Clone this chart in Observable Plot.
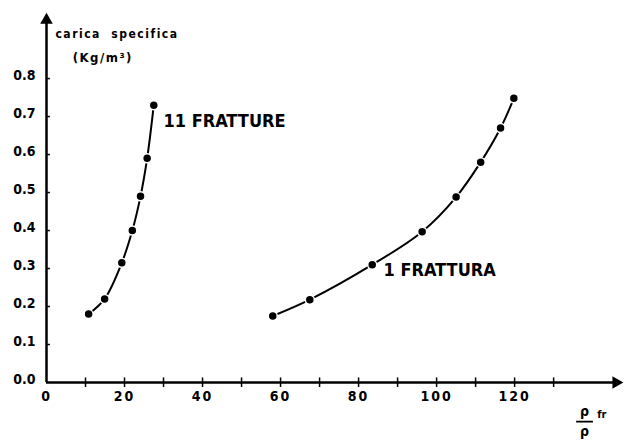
<!DOCTYPE html>
<html>
<head>
<meta charset="utf-8">
<script src="https://cdn.jsdelivr.net/npm/d3@7"></script>
<script src="https://cdn.jsdelivr.net/npm/@observablehq/plot@0.6"></script>
<style>
  body { margin: 0; background: #fff; }
  svg { font-family: "Liberation Sans Narrow", "DejaVu Sans Condensed", "Arial Narrow", sans-serif; font-weight: bold; }
</style>
</head>
<body>
<div id="chart"></div>
<script>
// Series "11 FRATTURE"
const xEleven = [10.8, 14.9, 19.3, 22.0, 24.1, 25.8, 27.5];
const yEleven = [0.18, 0.22, 0.315, 0.40, 0.49, 0.59, 0.73];
// Series "1 FRATTURA"
const xOne = [58, 67.5, 83.5, 96.3, 105, 111.3, 116.4, 119.8];
const yOne = [0.175, 0.218, 0.31, 0.397, 0.488, 0.58, 0.67, 0.748];
// Tick labels
const xTickLabels = [0, 20, 40, 60, 80, 100, 120];
const xMinorTicks = [10, 20, 30, 40, 50, 60, 70, 80, 90, 100, 110, 120, 130];
const yTickLabels = [0.0, 0.1, 0.2, 0.3, 0.4, 0.5, 0.6, 0.7, 0.8];
// Texts
const yTitle1 = "carica  specifica";
const yTitle2 = "(Kg/m³)";
const label11 = "11 FRATTURE";
const label1 = "1 FRATTURA";

const xMax = 147.4, yMax = 0.966;
const eleven = xEleven.map((x, i) => ({x, y: yEleven[i]}));
const one = xOne.map((x, i) => ({x, y: yOne[i]}));

const plot = Plot.plot({
  width: 625,
  height: 441,
  marginLeft: 46,
  marginRight: 4,
  marginTop: 15,
  marginBottom: 59,
  x: {domain: [0, xMax], axis: null},
  y: {domain: [0, yMax], axis: null},
  style: {background: "#fff", color: "#000", overflow: "visible"},
  marks: [
    Plot.axisX(xMinorTicks, {tickSize: 5, tickFormat: () => "", strokeWidth: 1.5, label: null}),
    Plot.axisX(xTickLabels, {tickSize: 0, tickPadding: 9, fontSize: 14, tickFormat: d => String(d), label: null}),
    Plot.ruleX(xMinorTicks, {y1: 0, y2: 0.012, strokeWidth: 1.5}),
    Plot.axisY(yTickLabels, {tickSize: 0, tickPadding: 11, fontSize: 14, dy: -3, tickFormat: d3.format(".1f"), label: null}),
    Plot.ruleY(yTickLabels.slice(1), {x1: 0, x2: 1, strokeWidth: 1.5}),
    Plot.ruleX([0], {y1: 0, y2: yMax - 0.02, strokeWidth: 2.5}),
    Plot.ruleY([0], {x1: 0, x2: xMax - 2, strokeWidth: 2.5}),
    Plot.dot([{x: 0, y: yMax - 0.012}], {x: "x", y: "y", symbol: "triangle2", r: 6, fill: "#000"}),
    Plot.dot([{x: xMax - 1.4, y: 0}], {x: "x", y: "y", symbol: "triangle2", r: 6, fill: "#000", rotate: 90}),
    Plot.line(eleven, {x: "x", y: "y", curve: "catmull-rom", strokeWidth: 2, stroke: "#000"}),
    Plot.line(one, {x: "x", y: "y", curve: "catmull-rom", strokeWidth: 2, stroke: "#000"}),
    Plot.dot(eleven, {x: "x", y: "y", r: 4.5, fill: "#000", stroke: "#fff", strokeWidth: 1.5}),
    Plot.dot(one, {x: "x", y: "y", r: 4.5, fill: "#000", stroke: "#fff", strokeWidth: 1.5}),
    Plot.text([yTitle1], {x: 2.3, y: 0.918, text: d => d, textAnchor: "start", fontSize: 12, className: "spaced"}),
    Plot.text([yTitle2], {x: 6.7, y: 0.855, text: d => d, textAnchor: "start", fontSize: 13, className: "spaced"}),
    Plot.text([label11], {x: 30, y: 0.687, text: d => d, textAnchor: "start", fontSize: 18}),
    Plot.text([label1], {x: 86.4, y: 0.295, text: d => d, textAnchor: "start", fontSize: 18}),
    Plot.text(["ρ"], {x: 137.9, y: -0.076, text: d => d, fontSize: 14}),
    Plot.ruleY([-0.103], {x1: 135.9, x2: 140.2, strokeWidth: 1.8}),
    Plot.text(["fr"], {x: 141.2, y: -0.085, text: d => d, textAnchor: "start", fontSize: 11}),
    Plot.text(["ρ"], {x: 137.9, y: -0.13, text: d => d, fontSize: 14})
  ]
});
d3.select(plot).selectAll(".spaced text").style("letter-spacing", "1.5px");
d3.select(plot).selectAll("[aria-label='x-axis tick label'] text").style("letter-spacing", "2px");
document.getElementById("chart").append(plot);
</script>
</body>
</html>
